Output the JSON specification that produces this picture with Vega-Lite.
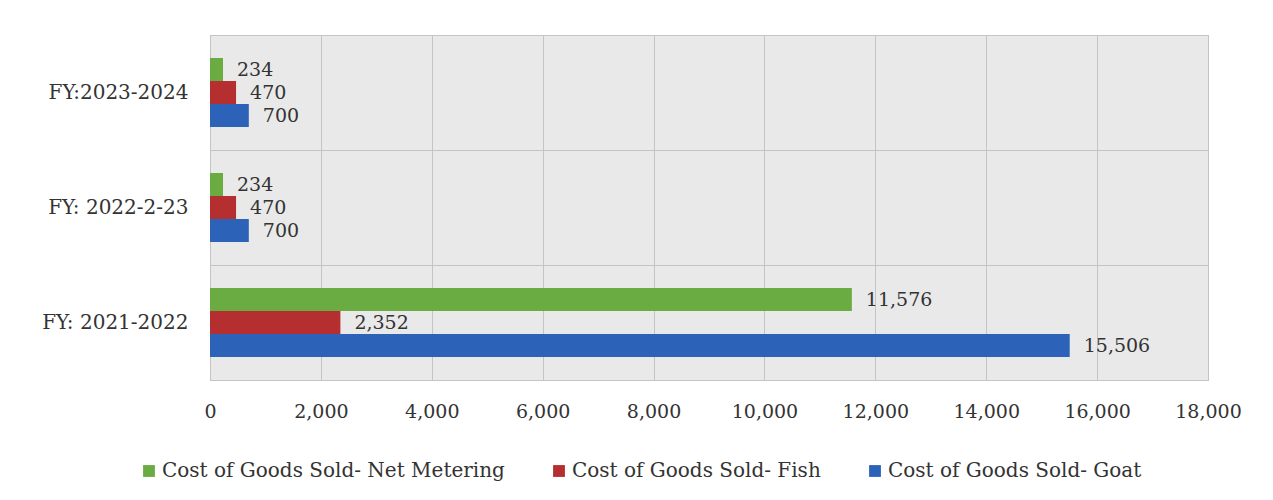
{
  "$schema": "https://vega.github.io/schema/vega-lite/v6.json",
  "autosize": {"type": "none"},
  "width": 998,
  "height": 345,
  "padding": {"left": 210, "top": 35, "right": 65, "bottom": 120},
  "background": "white",
  "data": {
    "values": [
      {"year": "FY:2023-2024", "series": "Cost of Goods Sold- Net Metering", "value": 234},
      {"year": "FY:2023-2024", "series": "Cost of Goods Sold- Fish", "value": 470},
      {"year": "FY:2023-2024", "series": "Cost of Goods Sold- Goat", "value": 700},
      {"year": "FY: 2022-2-23", "series": "Cost of Goods Sold- Net Metering", "value": 234},
      {"year": "FY: 2022-2-23", "series": "Cost of Goods Sold- Fish", "value": 470},
      {"year": "FY: 2022-2-23", "series": "Cost of Goods Sold- Goat", "value": 700},
      {"year": "FY: 2021-2022", "series": "Cost of Goods Sold- Net Metering", "value": 11576},
      {"year": "FY: 2021-2022", "series": "Cost of Goods Sold- Fish", "value": 2352},
      {"year": "FY: 2021-2022", "series": "Cost of Goods Sold- Goat", "value": 15506}
    ]
  },
  "encoding": {
    "y": {
      "field": "year",
      "type": "nominal",
      "sort": ["FY:2023-2024", "FY: 2022-2-23", "FY: 2021-2022"],
      "scale": {"paddingInner": 0, "paddingOuter": 0},
      "axis": {
        "title": null,
        "domain": false,
        "ticks": false,
        "labelPadding": 22,
        "labelFont": "DejaVu Serif",
        "labelFontSize": 20,
        "labelColor": "#333333",
        "grid": true,
        "tickBand": "extent",
        "gridColor": "#c4c4c4"
      }
    },
    "yOffset": {
      "field": "series",
      "type": "nominal",
      "sort": ["Cost of Goods Sold- Net Metering", "Cost of Goods Sold- Fish", "Cost of Goods Sold- Goat"],
      "scale": {"paddingInner": 0, "paddingOuter": 1.17}
    },
    "x": {
      "field": "value",
      "type": "quantitative",
      "scale": {"domain": [0, 18000], "nice": false},
      "axis": {
        "title": null,
        "values": [0, 2000, 4000, 6000, 8000, 10000, 12000, 14000, 16000, 18000],
        "format": ",.0f",
        "labelFlush": false,
        "domain": false,
        "ticks": false,
        "labelPadding": 22,
        "labelFont": "DejaVu Serif",
        "labelFontSize": 19,
        "labelColor": "#333333",
        "grid": true,
        "gridColor": "#c4c4c4"
      }
    }
  },
  "layer": [
    {
      "mark": {"type": "bar"},
      "encoding": {
        "color": {
          "field": "series",
          "type": "nominal",
          "sort": ["Cost of Goods Sold- Net Metering", "Cost of Goods Sold- Fish", "Cost of Goods Sold- Goat"],
          "scale": {
            "domain": ["Cost of Goods Sold- Net Metering", "Cost of Goods Sold- Fish", "Cost of Goods Sold- Goat"],
            "range": ["#6AAB42", "#B52F30", "#2C63B8"]
          },
          "legend": {
            "orient": "none",
            "legendX": -71,
            "legendY": 426,
            "direction": "horizontal",
            "title": null,
            "symbolType": "square",
            "symbolSize": 140,
            "symbolStrokeWidth": 0,
            "labelFont": "DejaVu Serif",
            "labelFontSize": 20,
            "labelColor": "#333333",
            "labelOffset": 3,
            "columnPadding": 44,
            "labelLimit": 500
          }
        }
      }
    },
    {
      "mark": {"type": "text", "align": "left", "baseline": "middle", "dx": 14, "font": "DejaVu Serif", "fontSize": 19, "color": "#333333"},
      "encoding": {
        "text": {"field": "value", "type": "quantitative", "format": ",.0f"}
      }
    }
  ],
  "config": {
    "view": {"fill": "#e9e9e9", "stroke": "#bdbdbd"}
  }
}
